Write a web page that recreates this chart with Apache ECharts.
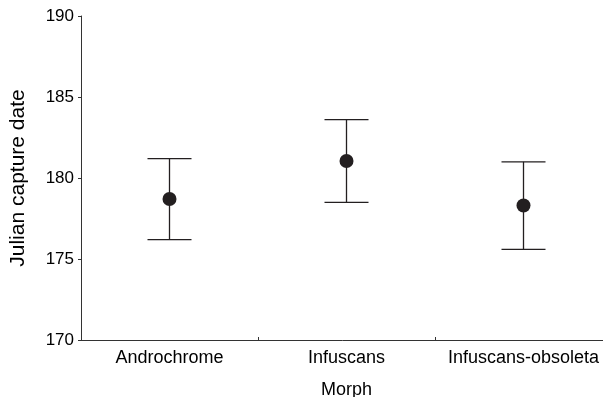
<!DOCTYPE html>
<html>
<head>
<meta charset="utf-8">
<script src="https://cdn.jsdelivr.net/npm/echarts@6/dist/echarts.min.js"></script>
<style>
  html, body { margin: 0; padding: 0; background: #fff; }
  #chart { width: 603px; height: 397px; }
</style>
</head>
<body>
<div id="chart"></div>
<script>
var categories = ['Androchrome', 'Infuscans', 'Infuscans-obsoleta']
var means = [178.7, 181.05, 178.3]
var upper = [181.2, 183.6, 181.0]
var lower = [176.2, 178.5, 175.6]
var yTicks = [170, 175, 180, 185, 190]

var ink = '#231f20'
var font = 'Liberation Sans, Arial, Helvetica, sans-serif'

var chart = echarts.init(document.getElementById('chart'))

var barData = categories.map(function (c, i) {
  return [i, lower[i], upper[i]]
})
var meanData = categories.map(function (c, i) {
  return [i, means[i]]
})

chart.setOption({
  animation: false,
  // plot runs a bit past the right edge, like the original figure
  grid: { left: 81, top: 16, bottom: 57, right: -9, outerBoundsMode: 'none', containLabel: false },
  xAxis: {
    type: 'category',
    data: categories,
    boundaryGap: true,
    name: 'Morph',
    nameLocation: 'middle',
    nameGap: 41,
    nameTextStyle: { color: '#000', fontSize: 18, fontFamily: font },
    axisLine: { lineStyle: { color: '#333', width: 1 } },
    axisTick: { show: true, inside: true, length: 3, lineStyle: { color: '#333' } },
    axisLabel: { color: '#000', fontSize: 18, fontFamily: font, margin: 9, interval: 0, hideOverlap: false },
    splitLine: { show: false }
  },
  yAxis: {
    type: 'value',
    min: yTicks[0],
    max: yTicks[yTicks.length - 1],
    interval: 5,
    name: 'Julian capture date',
    nameLocation: 'middle',
    nameGap: 52,
    nameTextStyle: { color: '#000', fontSize: 21, fontFamily: font },
    axisLine: { show: true, lineStyle: { color: '#333', width: 1 } },
    axisTick: { show: true, length: 3, lineStyle: { color: '#333' } },
    axisLabel: { color: '#000', fontSize: 17, fontFamily: font, margin: 7 },
    splitLine: { show: false }
  },
  series: [
    {
      type: 'custom',
      data: barData,
      renderItem: function (params, api) {
        var x = api.value(0)
        var lo = api.coord([x, api.value(1)])
        var hi = api.coord([x, api.value(2)])
        var half = 22
        var style = { stroke: ink, lineWidth: 1.3 }
        return {
          type: 'group',
          children: [
            { type: 'line', shape: { x1: hi[0], y1: hi[1], x2: lo[0], y2: lo[1] }, style: style },
            { type: 'line', shape: { x1: hi[0] - half, y1: hi[1], x2: hi[0] + half, y2: hi[1] }, style: style },
            { type: 'line', shape: { x1: lo[0] - half, y1: lo[1], x2: lo[0] + half, y2: lo[1] }, style: style }
          ]
        }
      },
      z: 2
    },
    {
      type: 'scatter',
      data: meanData,
      symbol: 'circle',
      symbolSize: 14,
      itemStyle: { color: ink, opacity: 1 },
      z: 3
    }
  ]
})
</script>
</body>
</html>
